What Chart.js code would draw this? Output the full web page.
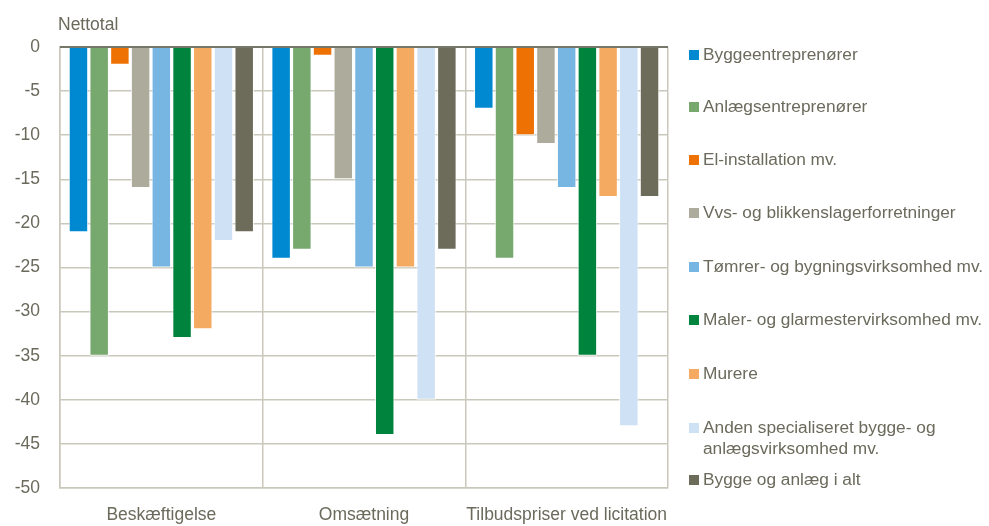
<!DOCTYPE html>
<html>
<head>
<meta charset="utf-8">
<script src="https://cdn.jsdelivr.net/npm/chart.js@4"></script>
<style>
  html, body { margin:0; padding:0; background:#fff; }
  #wrap { position:relative; width:989px; height:526px; overflow:hidden; font-family:'Liberation Sans', Arial, sans-serif; color:#6b6a5c; }
  canvas { position:absolute; left:0; top:0; }
  #ytitle { position:absolute; left:58px; top:14px; font-size:17.5px; line-height:21px; }
  .lg { position:absolute; left:689px; font-size:17.3px; line-height:21px; white-space:nowrap; }
  .lg .sw { position:absolute; left:0; top:6px; width:10px; height:10px; }
  .lg .tx { position:absolute; left:14px; top:0; }
</style>
</head>
<body>
<div id="wrap">
  <canvas id="c" width="989" height="526"></canvas>
  <div id="ytitle">Nettotal</div>
  <div id="legend"></div>
</div>
<script>
const categories = ["Beskæftigelse", "Omsætning", "Tilbudspriser ved licitation"];
const seriesNames = [
  "Byggeentreprenører",
  "Anlægsentreprenører",
  "El-installation mv.",
  "Vvs- og blikkenslagerforretninger",
  "Tømrer- og bygningsvirksomhed mv.",
  "Maler- og glarmestervirksomhed mv.",
  "Murere",
  "Anden specialiseret bygge- og\nanlægsvirksomhed mv.",
  "Bygge og anlæg i alt"
];
const byggeentreprenorer = [-21, -24, -7];
const anlaegsentreprenorer = [-35, -23, -24];
const elInstallation = [-2, -1, -10];
const vvsBlikkenslager = [-16, -15, -11];
const tomrerBygning = [-25, -25, -16];
const malerGlarmester = [-33, -44, -35];
const murere = [-32, -25, -17];
const andenSpecialiseret = [-22, -40, -43];
const byggeAnlaegIAlt = [-21, -23, -17];
const yTicks = [0, -5, -10, -15, -20, -25, -30, -35, -40, -45, -50];

const seriesValues = [byggeentreprenorer, anlaegsentreprenorer, elInstallation, vvsBlikkenslager,
  tomrerBygning, malerGlarmester, murere, andenSpecialiseret, byggeAnlaegIAlt];
const colors = ["#0089d1", "#77a96f", "#ee7203", "#adab9c", "#77b5e3", "#00843d", "#f5aa62", "#cfe1f5", "#6d6c5b"];

const textColor = "#6b6a5c";
const gridColor = "#c9c8bb";
const font = { family: "'Liberation Sans', Arial, sans-serif", size: 17.5 };

const zeroLine = {
  id: 'zeroLine',
  afterDatasetsDraw(chart) {
    const y = chart.scales.y.getPixelForValue(0);
    const ctx = chart.ctx;
    ctx.save();
    ctx.strokeStyle = "#77766a";
    ctx.lineWidth = 2;
    ctx.beginPath();
    ctx.moveTo(chart.chartArea.left, y);
    ctx.lineTo(chart.chartArea.right, y);
    ctx.stroke();
    ctx.restore();
  }
};

new Chart(document.getElementById('c'), {
  type: 'bar',
  data: {
    labels: categories,
    datasets: seriesValues.map((vals, i) => ({
      label: seriesNames[i],
      data: vals,
      backgroundColor: colors[i],
      borderColor: 'rgba(255,255,255,0.85)',
      borderWidth: 1,
      categoryPercentage: 0.92,
      barPercentage: 0.94
    }))
  },
  options: {
    responsive: false,
    animation: false,
    devicePixelRatio: 1,
    layout: { padding: { left: 0, top: 47, right: 321, bottom: 0 } },
    plugins: { legend: { display: false }, tooltip: { enabled: false } },
    scales: {
      x: {
        grid: { color: gridColor, lineWidth: 1.5, drawTicks: false, offset: true },
        border: { color: gridColor, width: 1.5 },
        ticks: { color: textColor, font: font, padding: 17, maxRotation: 0, autoSkip: false },
        afterFit(s) { s.height = 38; }
      },
      y: {
        min: -50, max: 0,
        afterBuildTicks(s) { s.ticks = yTicks.map(v => ({ value: v })); },
        grid: {
          color: gridColor,
          lineWidth: 1.5,
          drawTicks: false
        },
        border: { color: gridColor, width: 1.5 },
        ticks: { color: textColor, font: font, padding: 20 },
        afterFit(s) { s.width = 60; }
      }
    }
  },
  plugins: [zeroLine]
});

// HTML legend
const legendTops = [44, 96, 149, 202, 256, 309, 363, 417, 469];
const lg = document.getElementById('legend');
seriesNames.forEach((name, i) => {
  const d = document.createElement('div');
  d.className = 'lg';
  d.style.top = legendTops[i] + 'px';
  const sw = document.createElement('div');
  sw.className = 'sw';
  sw.style.background = colors[i];
  const tx = document.createElement('div');
  tx.className = 'tx';
  tx.innerHTML = name.split('\n').join('<br>');
  d.appendChild(sw); d.appendChild(tx);
  lg.appendChild(d);
});
</script>
</body>
</html>
